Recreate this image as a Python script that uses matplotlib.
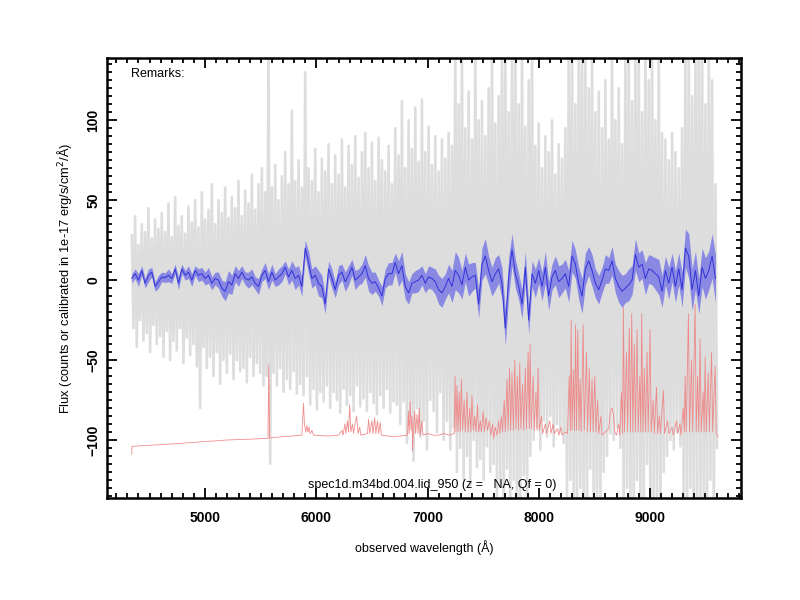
import numpy as np
import matplotlib
matplotlib.use("Agg")
import matplotlib.pyplot as plt
from matplotlib.ticker import MultipleLocator

plt.rcParams['font.family'] = ['Liberation Sans', 'DejaVu Sans']

# wavelength grid of the binned spectrum (30 A bins)
wave = np.arange(4340, 9610, 30)

# smoothed flux (blue) and its error
blue_flux = [
    1, 4, 0, 6, -2, 3, 5, -4, -1, 2, 1.5, 3, 1, 7, -2, 7, 3, 5, 0, 6,
    3, 4, 1, 3, -2, 1, 0, -5, -7, -1, -3, 4, 1, 5, 1, 0, 2, -2, -4, 3,
    6, -1, 5, 0, 2, 4, 8, 2, 6, 1, 3, -4, 20, 11, 1, 3, -2, -4, -15, 7,
    1, -6, 3, 5, -1, 3, 8, 0, 2, 4, 9, 1, -2, -1, -5, -10, 1, 4, 4, 11,
    4, 9, -4, -8, -2, -1, 0,
    3, -2, 2, 1, -1, -6, -8, -4, 1, -4, 6, 3, -3, 8, 0, 2, 3, -15, 10, 15,
    6, -1, 4, 7, -2, -30, 2, 19, 4, -4, -15, 8, -25, 4, -2, 6, -4, 8, -10, 2,
    6, -1, 1, 4, -4, 15, 10, -2, -10, 7, 12, 6, -2, -6, 0, 7, 6, 12, 1, -4,
    -7, -5, -3, 0, 16, 8, 10, 1, 7, 6, 4, 2, -7, 6, -2, 8, -4, 7, -6, 20,
    15, -6, 6, -10, 8, 1, 6, 15, 1,
]
blue_err = [
    3, 3, 4, 3, 3, 4, 3, 3, 4, 3, 3, 4, 3, 3, 4, 3, 3, 4, 4, 3, 4, 4,
    4, 5, 4, 4, 5, 5, 6, 7, 6, 5, 5, 4, 4, 5, 5, 4, 5, 4, 5, 5, 5, 4,
    5, 5, 4, 5, 6, 7, 6, 6, 5, 7, 6, 6, 8, 7, 6, 5, 6, 5, 6, 5, 6, 6,
    5, 6, 5, 6, 7, 8, 7, 6, 5, 6, 6, 7, 7, 6, 8, 9, 8, 7, 6, 7, 7, 6,
    6, 7, 7, 8, 9, 9, 8, 9, 10, 12, 11, 9, 9, 10, 9, 8, 9, 10, 11, 9, 9, 10,
    9, 10, 11, 12, 10, 9, 8, 9, 10, 9, 8, 9, 8, 9, 10, 9, 8, 9, 10, 9, 9, 10,
    10, 9, 10, 11, 10, 9, 10, 9, 9, 8, 9, 8, 9, 9, 10, 10, 9, 10, 9, 10, 9, 9,
    10, 9, 9, 10, 11, 10, 9, 10, 9, 10, 10, 11, 12, 14, 13, 12, 11, 12, 13, 12, 14, 15,
]

# raw (unsmoothed) flux, highest and lowest value in each bin
grey_hi = [
    28, 40, 22, 35, 30, 45, 26, 38, 32, 42, 30, 48, 27, 52, 34, 40, 29, 46, 36, 50,
    33, 55, 38, 44, 60, 35, 50, 42, 58, 39, 52, 45, 62, 40, 56, 48, 66, 44, 60, 70,
    55, 150, 58, 72, 50, 65, 80, 60, 106, 62, 75, 58, 130, 70, 62, 82, 55, 76, 68, 85,
    60, 78, 66, 88, 58, 84, 72, 90, 64, 80, 92, 70, 86, 62, 89, 75, 68, 84, 60, 95,
    78, 112, 70, 100, 82, 108, 74, 113, 80, 96, 72, 90, 68, 88, 76, 92, 84, 150, 110, 150,
    95, 118, 88, 150, 100, 112, 90, 120, 150, 98, 115, 150, 150, 105, 150, 150, 110, 150, 96, 125,
    150, 84, 98, 70, 90, 80, 100, 66, 85, 76, 95, 150, 150, 110, 150, 150, 150, 120, 150, 105,
    118, 95, 125, 88, 150, 100, 120, 85, 150, 150, 112, 150, 150, 105, 150, 125, 150, 100, 150, 92,
    88, 75, 92, 80, 70, 95, 150, 150, 115, 150, 150, 150, 110, 150, 125, 60,
]
grey_lo = [
    -30, -42, -25, -38, -33, -45, -28, -40, -35, -48, -32, -50, -38, -44, -30, -52, -36, -47, -40, -54,
    -80, -42, -55, -48, -60, -45, -65, -50, -58, -46, -62, -50, -57, -55, -64, -48, -60, -52, -58, -66,
    -60, -115, -58, -66, -55, -70, -62, -68, -57, -71, -65, -72, -60, -78, -68, -81, -70, -76, -66, -80,
    -70, -75, -83, -68, -78, -72, -82, -66, -79, -74, -82, -70, -77, -84, -72, -80, -68, -83, -76, -78,
    -90, -76, -102, -85, -113, -80, -98, -88, -106, -75, -82, -95, -70, -100, -88, -106, -92, -120, -105, -125,
    -110, -129, -100, -117, -112, -125, -104, -120, -115, -135, -128, -150, -118, -150, -125, -150, -140, -122, -150, -110,
    -100, -92, -106, -88, -98, -85, -104, -90, -95, -102, -150, -125, -150, -150, -130, -150, -150, -118, -150, -140,
    -150, -120, -110, -96, -100, -92, -105, -150, -130, -150, -150, -125, -150, -150, -115, -150, -150, -135, -150, -120,
    -110, -100, -106, -95, -104, -150, -150, -130, -150, -150, -140, -150, -150, -125, -150, -105,
]

# sky spectrum (red), wavelength and flux pairs
sky_wave = [
    4340, 4342, 4700, 5000, 5200, 5400, 5565, 5572, 5580, 5600,
    5870, 5885, 5893, 5905, 5915, 5925, 5935, 5945, 5960, 5975,
    6100, 6200, 6230, 6240, 6257, 6265, 6280, 6290, 6300, 6310,
    6325, 6335, 6350, 6363, 6375, 6390, 6400, 6460, 6470, 6480,
    6500, 6510, 6525, 6535, 6550, 6560, 6575, 6585, 6700, 6820,
    6828, 6835, 6845, 6852, 6860, 6866, 6872, 6885, 6893, 6905,
    6915, 6925, 6935, 6950, 6960, 7000, 7050, 7100, 7150, 7200,
    7240, 7248, 7256, 7265, 7275, 7285, 7295, 7305, 7315, 7330,
    7340, 7355, 7365, 7380, 7390, 7400, 7412, 7425, 7435, 7450,
    7460, 7475, 7485, 7500, 7512, 7525, 7540, 7555, 7570, 7585,
    7595, 7610, 7625, 7640, 7650, 7665, 7675, 7690, 7700, 7715,
    7725, 7738, 7748, 7760, 7772, 7785, 7795, 7808, 7818, 7830,
    7840, 7855, 7865, 7880, 7890, 7905, 7915, 7923, 7933, 7950,
    7960, 7975, 7985, 7995, 8005, 8025, 8035, 8060, 8070, 8100,
    8110, 8130, 8140, 8170, 8180, 8200, 8210, 8240, 8260, 8275,
    8285, 8292, 8300, 8312, 8322, 8332, 8340, 8352, 8362, 8372,
    8382, 8400, 8410, 8430, 8440, 8455, 8465, 8480, 8490, 8505,
    8515, 8530, 8540, 8560, 8570, 8600, 8630, 8645, 8660, 8672,
    8685, 8700, 8720, 8730, 8745, 8755, 8762, 8772, 8790, 8800,
    8815, 8825, 8837, 8847, 8860, 8870, 8885, 8895, 8910, 8918,
    8927, 8937, 8950, 8960, 8975, 8985, 9002, 9012, 9030, 9040,
    9060, 9070, 9085, 9095, 9122, 9132, 9160, 9170, 9200, 9210,
    9240, 9250, 9270, 9280, 9300, 9310, 9317, 9327, 9347, 9357,
    9375, 9385, 9407, 9417, 9430, 9440, 9452, 9462, 9480, 9488,
    9497, 9507, 9525, 9535, 9555, 9565, 9587, 9597, 9605, 9612,
]
sky_flux = [
    -109, -104, -102.5, -101, -100, -99.5, -99, -53, -99, -98.5,
    -97, -77, -90, -95, -91, -95, -92, -96, -94, -97,
    -97.5, -97, -94, -97, -90, -96, -88, -95, -78, -95,
    -90, -96, -89, -85, -96, -92, -97, -96, -87, -96,
    -88, -96, -86, -96, -88, -96, -89, -97, -98, -97,
    -82, -96, -76, -94, -85, -107, -95, -82, -96, -84,
    -96, -80, -97, -88, -97, -96, -97, -97, -96, -97,
    -96, -60, -95, -66, -95, -70, -95, -62, -94, -75,
    -95, -70, -95, -80, -95, -72, -94, -85, -95, -78,
    -95, -88, -95, -82, -95, -86, -94, -88, -97, -90,
    -99, -92, -97, -88, -96, -85, -95, -75, -95, -62,
    -94, -55, -94, -58, -94, -50, -93, -60, -94, -52,
    -93, -65, -94, -55, -93, -45, -93, -40, -93, -60,
    -94, -70, -94, -55, -94, -85, -96, -90, -96, -88,
    -96, -90, -96, -93, -97, -92, -97, -95, -96, -60,
    -94, -25, -94, -56, -94, -28, -94, -31, -94, -62,
    -95, -28, -94, -45, -95, -55, -95, -62, -95, -60,
    -95, -75, -96, -85, -97, -95, -93, -82, -80, -84,
    -95, -97, -90, -97, -70, -96, -17, -95, -45, -95,
    -30, -95, -21, -95, -40, -95, -31, -95, -60, -95,
    -21, -95, -55, -95, -45, -95, -31, -95, -75, -96,
    -67, -96, -85, -96, -69, -96, -88, -96, -92, -97,
    -88, -96, -90, -97, -80, -95, -60, -95, -21, -95,
    -50, -95, -15, -95, -60, -95, -37, -95, -70, -95,
    -48, -95, -58, -95, -45, -95, -54, -96, -97, -98,
]

fig = plt.figure(figsize=(8, 6), dpi=100)
ax = fig.add_axes([0.134, 0.17, 0.792, 0.733])

# raw spectrum drawn as a zigzag through each bin's extremes
zig_x = np.column_stack([wave, wave + 15]).ravel()
zig_y = np.column_stack([grey_hi, grey_lo]).ravel()

ax.plot(zig_x, zig_y, color='#cccccc', lw=1.9, alpha=0.65, zorder=1)
ax.plot(sky_wave, sky_flux, color='#f08080', lw=0.6, alpha=0.9, zorder=2)

lo = np.array(blue_flux) - np.array(blue_err)
hi = np.array(blue_flux) + np.array(blue_err)
ax.fill_between(wave, lo, hi, color='#7b7be6', alpha=0.85, lw=0, zorder=3)
ax.plot(wave, blue_flux, color='#3232d8', lw=0.7, zorder=4)

ax.set_xlim(4119, 9818)
ax.set_ylim(-136.3, 138.8)

ax.xaxis.set_major_locator(MultipleLocator(1000))
ax.xaxis.set_minor_locator(MultipleLocator(100))
ax.yaxis.set_major_locator(MultipleLocator(50))
ax.yaxis.set_minor_locator(MultipleLocator(5))
ax.tick_params(which='both', direction='in', top=True, right=True, width=1.3)
ax.tick_params(which='major', length=7, labelsize=10)
ax.tick_params(axis='x', which='major', pad=9)
ax.tick_params(axis='y', which='major', pad=5)
ax.tick_params(which='minor', length=3.5)
for lab in ax.get_xticklabels() + ax.get_yticklabels():
    lab.set_fontweight('bold')
for lab in ax.get_yticklabels():
    lab.set_rotation(90)
    lab.set_verticalalignment('center')
for sp in ax.spines.values():
    sp.set_linewidth(1.8)

ax.set_xlabel('observed wavelength (Å)', fontsize=9, labelpad=11)
ax.set_ylabel('Flux (counts or calibrated in 1e-17 erg/s/cm$^2$/Å)', fontsize=9.3, labelpad=9)

ax.text(0.038, 0.977, 'Remarks:', transform=ax.transAxes, fontsize=9, va='top', ha='left')
ax.text(0.513, 0.017, 'spec1d.m34bd.004.lid_950 (z =   NA, Qf = 0)', transform=ax.transAxes,
        fontsize=9, va='bottom', ha='center')

fig.savefig('out.png', dpi=100)
